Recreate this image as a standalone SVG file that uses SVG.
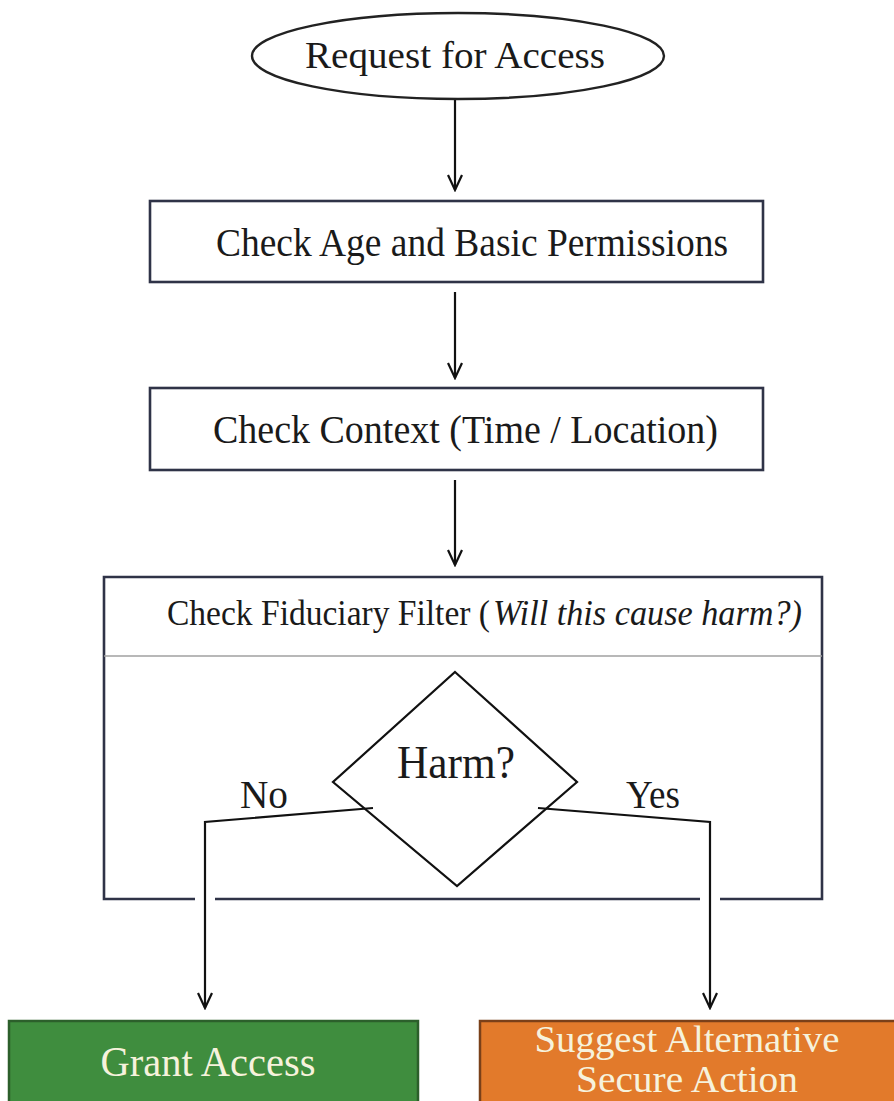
<svg xmlns="http://www.w3.org/2000/svg" width="894" height="1101" viewBox="0 0 894 1101">
  <defs>
    <marker id="arrow" viewBox="0 0 20 20" refX="18" refY="10" markerWidth="20" markerHeight="20" markerUnits="userSpaceOnUse" orient="auto">
      <path d="M3,3 L18,10 L3,17" fill="none" stroke="#111" stroke-width="2.2" stroke-linejoin="miter"/>
    </marker>
  </defs>
  <style>
    .box { fill: #fff; stroke: #2f3347; stroke-width: 2.6; }
    .frame { fill: none; stroke: #2f3347; stroke-width: 2.6; }
    .lbl { font-family: "Liberation Serif", "Times New Roman", serif; fill: #1a1a1a; }
    .wt { font-family: "Liberation Serif", "Times New Roman", serif; fill: #f6f2dc; }
    .conn { fill: none; stroke: #111; stroke-width: 2.2; }
  </style>
  <rect width="894" height="1101" fill="#ffffff"/>

  <g id="start">
    <ellipse cx="458" cy="56" rx="206" ry="43" fill="#fff" stroke="#222" stroke-width="2.4"/>
    <text class="lbl" x="305" y="68" font-size="38" textLength="300" lengthAdjust="spacingAndGlyphs">Request for Access</text>
  </g>

  <g id="check-age">
    <rect class="box" x="150" y="201" width="613" height="81"/>
    <text class="lbl" x="216" y="256" font-size="39" textLength="512" lengthAdjust="spacingAndGlyphs">Check Age and Basic Permissions</text>
  </g>

  <g id="check-context">
    <rect class="box" x="150" y="388" width="613" height="82"/>
    <text class="lbl" x="213" y="443" font-size="39" textLength="505" lengthAdjust="spacingAndGlyphs">Check Context (Time / Location)</text>
  </g>

  <g id="fiduciary-filter">
    <rect x="104" y="577" width="718" height="322" fill="#fff" stroke="none"/>
    <path class="frame" d="M720,899 H822 V577 H104 V899 H195 M215,899 H700"/>
    <line x1="104" y1="656" x2="822" y2="656" stroke="#a0a0a0" stroke-width="1.6"/>
    <text class="lbl" x="167" y="625" font-size="35" textLength="323" lengthAdjust="spacingAndGlyphs">Check Fiduciary Filter (</text>
    <text class="lbl" x="493" y="625" font-size="35" font-style="italic" textLength="309" lengthAdjust="spacingAndGlyphs">Will this cause harm?)</text>
  </g>

  <g id="harm-decision">
    <polygon points="455,672 577,782 457,886 333,782" fill="#fff" stroke="#111" stroke-width="2.2"/>
    <text class="lbl" x="456" y="778" font-size="46" text-anchor="middle" textLength="118" lengthAdjust="spacingAndGlyphs">Harm?</text>
  </g>

  <g id="edge-labels">
    <text class="lbl" x="240" y="808" font-size="39" textLength="48" lengthAdjust="spacingAndGlyphs">No</text>
    <text class="lbl" x="626" y="808" font-size="39" textLength="54" lengthAdjust="spacingAndGlyphs">Yes</text>
  </g>

  <g id="grant-access">
    <rect x="9" y="1021" width="409" height="82" fill="#3f8d3e" stroke="#2c5f2b" stroke-width="2.5"/>
    <text class="wt" x="208" y="1076" font-size="42" text-anchor="middle" textLength="215" lengthAdjust="spacingAndGlyphs">Grant Access</text>
  </g>

  <g id="suggest-alternative">
    <rect x="480" y="1021" width="420" height="82" fill="#e27a2b" stroke="#7a4019" stroke-width="2.5"/>
    <text class="wt" x="687" y="1052" font-size="38" text-anchor="middle" textLength="305" lengthAdjust="spacingAndGlyphs">Suggest Alternative</text>
    <text class="wt" x="687" y="1092" font-size="38" text-anchor="middle" textLength="222" lengthAdjust="spacingAndGlyphs">Secure Action</text>
  </g>

  <g id="connectors">
    <line class="conn" x1="455" y1="100" x2="455" y2="190" marker-end="url(#arrow)"/>
    <line class="conn" x1="455" y1="292" x2="455" y2="378" marker-end="url(#arrow)"/>
    <line class="conn" x1="455" y1="480" x2="455" y2="565" marker-end="url(#arrow)"/>
    <polyline class="conn" points="373,808 205,822 205,1008" marker-end="url(#arrow)"/>
    <polyline class="conn" points="538,808 710,822 710,1008" marker-end="url(#arrow)"/>
  </g>
</svg>
